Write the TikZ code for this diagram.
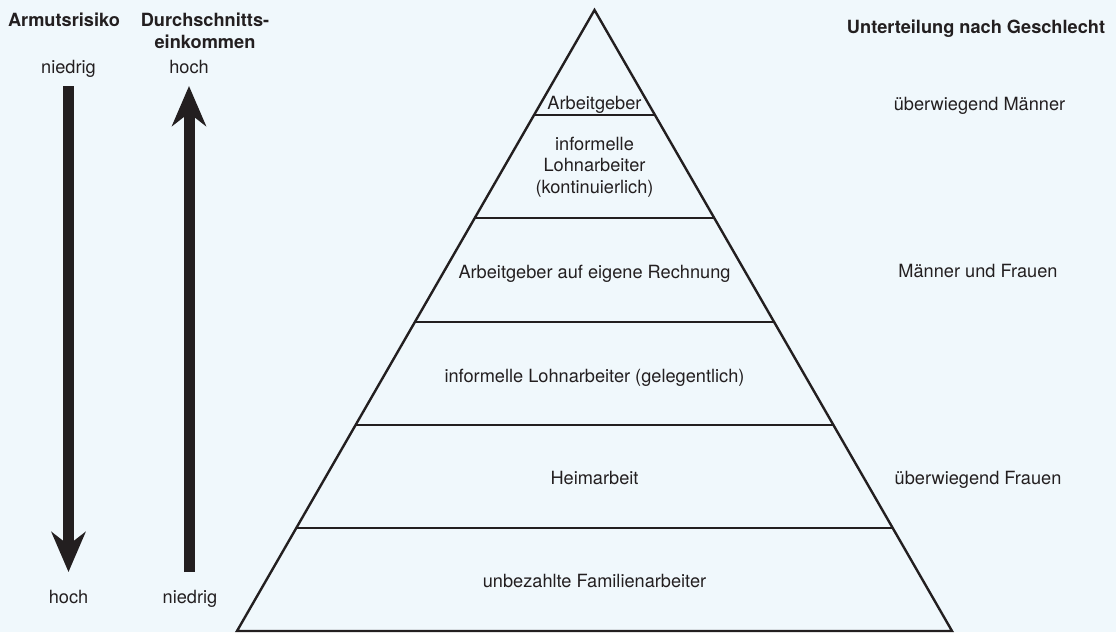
\documentclass[tikz,border=0pt]{standalone}
\usepackage{fontspec}
\setmainfont{TeX Gyre Heros}
\usetikzlibrary{arrows.meta}
\usetikzlibrary{calc}
\definecolor{bgblue}{RGB}{240,248,252}
\definecolor{ink}{RGB}{35,31,32}
\tikzset{>={Stealth[length=40pt, width=34pt, inset=13pt]}}
\tikzset{
    lbl/.style={anchor=base, inner sep=0pt, text=ink, font=\fontsize{18.2}{21.5}\selectfont},
    head/.style={lbl, font=\fontsize{18.2}{21.5}\selectfont\bfseries},
    tier/.style={draw=ink, line width=2.4pt},
    bigarrow/.style={->, draw=ink, line width=11pt},
}
\begin{document}
\begin{tikzpicture}[x=1pt, y=-1pt]
		\fill[bgblue] (0,0) rectangle (1116,632);
		\useasboundingbox (0,0) rectangle (1116,632);
		% left scales
		\node[head] (risk) at (64,26) {Armutsrisiko};
		\node[head, align=center] (income) at (205,48) {Durchschnitts-\\einkommen};
		\node[lbl] (risklow) at (68.5,73) {niedrig};
		\node[lbl] (incomehigh) at (189,73) {hoch};
		\node[lbl] (riskhigh) at (68.5,603) {hoch};
		\node[lbl] (incomelow) at (190,603) {niedrig};
		\coordinate (risktop) at (68.5,86);
		\coordinate (riskend) at (68.5,572);
		\coordinate (incometop) at (189,86);
		\coordinate (incomeend) at (189,572);
		\draw[bigarrow] (risktop) -- (riskend);
		\draw[bigarrow] (incomeend) -- (incometop);
		% pyramid
		\coordinate (apex) at (594.5,10);
		\coordinate (bl) at (237,631);
		\coordinate (br) at (952,631);
		\draw[tier, line join=miter] (bl) -- (apex) -- (br) -- cycle;
		\foreach \y in {115,218,322,425,528}{
			\pgfmathsetmacro{\t}{(\y-10)/621}
			\draw[tier] ($(apex)!\t!(bl)$) -- ($(apex)!\t!(br)$);
		}
		\node[lbl] (boss) at (594.5,109) {Arbeitgeber};
		\node[lbl, align=center] (waged) at (594.5,193) {informelle\\Lohnarbeiter\\(kontinuierlich)};
		\node[lbl] (own) at (594.5,278) {Arbeitgeber auf eigene Rechnung};
		\node[lbl] (casual) at (594.5,382) {informelle Lohnarbeiter (gelegentlich)};
		\node[lbl] (home) at (594.5,484) {Heimarbeit};
		\node[lbl] (family) at (594.5,587) {unbezahlte Familienarbeiter};
		% right column
		\node[head] (gender) at (976,33) {Unterteilung nach Geschlecht};
		\node[lbl] (men) at (979.5,110) {überwiegend Männer};
		\node[lbl] (both) at (978,277) {Männer und Frauen};
		\node[lbl] (women) at (978,484) {überwiegend Frauen};
	\end{tikzpicture}
\end{document}
